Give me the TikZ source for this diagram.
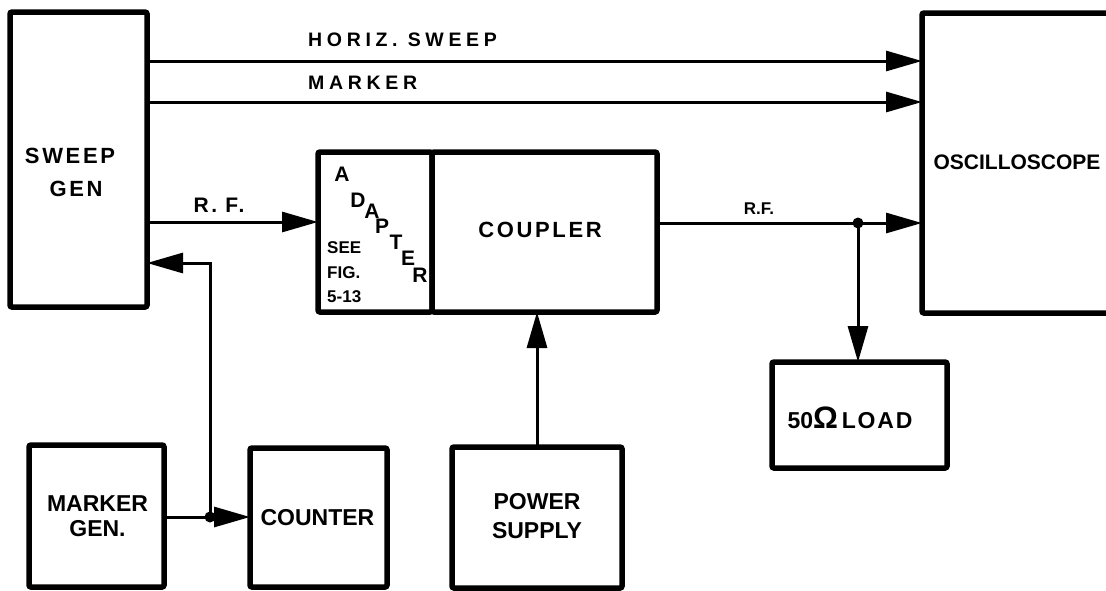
\documentclass[tikz,border=0pt]{standalone}
\usepackage{fontspec}
\setmainfont{Liberation Sans}
\newfontfamily\wideA{Liberation Sans}[LetterSpace=24]
\newfontfamily\wideB{Liberation Sans}[LetterSpace=12]
\usetikzlibrary{arrows.meta}
\begin{document}
\begin{tikzpicture}[x=1pt,y=-1pt,
  box/.style={draw,line width=5.5pt,inner sep=0pt,outer sep=0pt,rounded corners=2pt},
  conn/.style={line width=3pt},
  arr/.style={-{Triangle[length=36pt,width=20pt]}},
  lbl/.style={inner sep=0pt,font=\bfseries\fontsize{23}{29}\selectfont,align=center},
  tag/.style={inner sep=0pt,font=\wideA\bfseries\fontsize{19.5}{22}\selectfont},
  adl/.style={inner sep=0pt,font=\bfseries\fontsize{21}{21}\selectfont}]
\useasboundingbox (0,0) rectangle (1106,590);
% boxes
\node[box,minimum width=137pt,minimum height=295pt] (sweep) at (78.5,159.5) {};
\node[lbl,font=\wideB\bfseries\fontsize{22}{33}\selectfont] (sweept) at (70,172) {SWEEP\\\hspace*{12pt}GEN};
\node[box,minimum width=190pt,minimum height=300pt] (osc) at (1017,163) {};
\node[lbl,font=\bfseries\fontsize{21}{25}\selectfont] (osct) at (1017,162) {OSCILLOSCOPE};
\node[box,minimum width=114pt,minimum height=160pt] (adapter) at (375,232) {};
\node[box,minimum width=225pt,minimum height=160pt] (coupler) at (544.5,232) {};
\node[lbl,font=\wideB\bfseries\fontsize{22}{26}\selectfont] (couplert) at (540,230) {COUPLER};
\node[box,minimum width=175pt,minimum height=106pt] (load) at (859.5,415) {};
\node[inner sep=0pt,font=\bfseries\fontsize{23}{26}\selectfont] (loadt) at (850,418)
  {50{\fontsize{31}{31}\selectfont Ω}\,{\fontspec{Liberation Sans}[LetterSpace=8]\bfseries LOAD}};
\node[box,minimum width=135pt,minimum height=142pt] (mgen) at (96.5,516) {};
\node[lbl,font=\bfseries\fontsize{23}{25}\selectfont] (mgent) at (97.5,516) {MARKER\\GEN.};
\node[box,minimum width=137pt,minimum height=139pt] (counter) at (318.5,517.5) {};
\node[lbl] (countert) at (317.5,517.5) {COUNTER};
\node[box,minimum width=170pt,minimum height=141pt] (power) at (537,517.5) {};
\node[lbl] (powert) at (537,516.5) {POWER\\SUPPLY};
% adapter lettering
\node[adl] (a1) at (342,174) {A};
\node[adl] (a2) at (358,200) {D};
\node[adl] (a3) at (372,211) {A};
\node[adl] (a4) at (382,226) {P};
\node[adl] (a5) at (396,242) {T};
\node[adl] (a6) at (408,258) {E};
\node[adl] (a7) at (420,275) {R};
\node[inner sep=0pt,anchor=west,align=left,font=\bfseries\fontsize{17}{24.5}\selectfont] (seefig) at (327,272.5) {SEE\\FIG.\\5-13};
% signal labels
\node[tag,anchor=west] (hst) at (308,40) {HORIZ. SWEEP};
\node[tag,anchor=west] (mkt) at (308,83) {MARKER};
\node[tag,font=\wideB\bfseries\fontsize{21}{22}\selectfont] (rf1) at (219,205) {R. F.};
\node[tag,font=\bfseries\fontsize{17}{20}\selectfont] (rf2) at (759,209) {R.F.};
% coordinates
\coordinate (hs) at (0,61);
\coordinate (mk) at (0,102);
\coordinate (rf) at (0,222);
\coordinate (rr) at (0,223);
\coordinate (rt) at (0,263);
\coordinate (jn) at (210,517);
\coordinate (jr) at (858,223);
% connectors
\draw[conn,arr] (sweep.east |- hs) -- (osc.west |- hs);
\draw[conn,arr] (sweep.east |- mk) -- (osc.west |- mk);
\draw[conn,arr] (sweep.east |- rf) -- (adapter.west |- rf);
\draw[conn,arr] (coupler.east |- rr) -- (osc.west |- rr);
\draw[conn,arr] (jr) -- (jr |- load.north);
\draw[conn,arr] (power.north) -- (power.north |- coupler.south);
\draw[conn] (mgen.east |- jn) -- (jn);
\draw[conn,arr] (jn) -- (counter.west |- jn);
\draw[conn,arr] (jn) -- (jn |- rt) -- (sweep.east |- rt);
\fill (jn) circle (5.5pt);
\fill (jr) circle (5.5pt);
\end{tikzpicture}
\end{document}
